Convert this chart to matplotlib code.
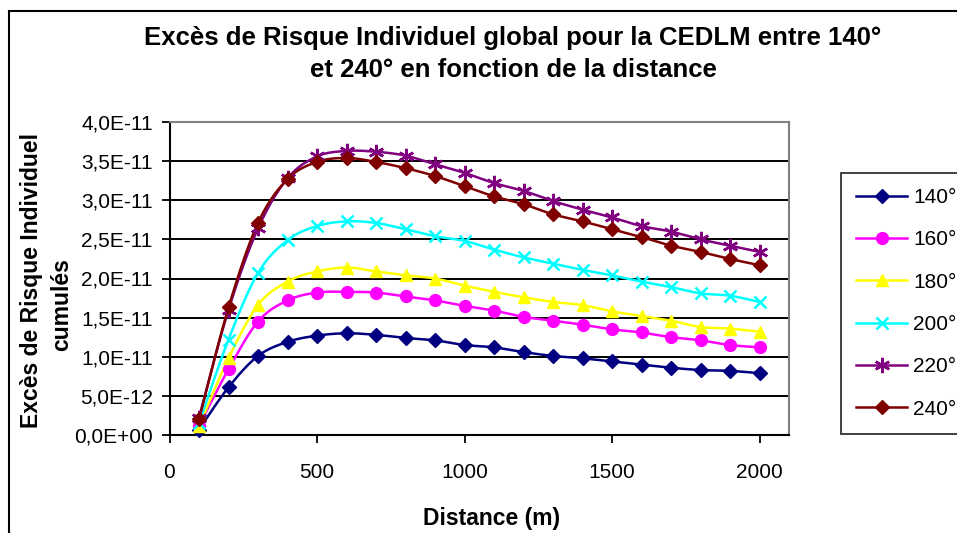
import numpy as np
import matplotlib
matplotlib.use("Agg")
import matplotlib.pyplot as plt
from matplotlib.lines import Line2D
from matplotlib.ticker import FuncFormatter, MultipleLocator

plt.rcParams['font.family'] = ['Liberation Sans', 'DejaVu Sans']

# Distances (m) and cumulated individual risk excess, in units of 1e-11
SCALE = 1e-11
distance = [100, 200, 300, 400, 500, 600, 700, 800, 900, 1000,
            1100, 1200, 1300, 1400, 1500, 1600, 1700, 1800, 1900, 2000]
risk_140 = [0.07, 0.61, 1.01, 1.19, 1.27, 1.30, 1.28, 1.24, 1.21, 1.15,
            1.12, 1.06, 1.01, 0.98, 0.94, 0.90, 0.86, 0.83, 0.82, 0.79]
risk_160 = [0.12, 0.84, 1.45, 1.72, 1.82, 1.83, 1.82, 1.77, 1.72, 1.65,
            1.59, 1.51, 1.46, 1.41, 1.35, 1.31, 1.25, 1.21, 1.15, 1.12]
risk_180 = [0.11, 0.98, 1.66, 1.96, 2.09, 2.14, 2.09, 2.04, 2.00, 1.91,
            1.83, 1.76, 1.70, 1.66, 1.58, 1.52, 1.46, 1.38, 1.36, 1.32]
risk_200 = [0.15, 1.22, 2.07, 2.49, 2.67, 2.73, 2.71, 2.63, 2.54, 2.48,
            2.37, 2.27, 2.19, 2.11, 2.04, 1.96, 1.89, 1.81, 1.78, 1.70]
risk_220 = [0.22, 1.60, 2.64, 3.28, 3.56, 3.63, 3.62, 3.57, 3.46, 3.35,
            3.22, 3.12, 2.99, 2.88, 2.78, 2.67, 2.60, 2.50, 2.42, 2.34]
risk_240 = [0.20, 1.63, 2.71, 3.27, 3.49, 3.54, 3.49, 3.41, 3.31, 3.18,
            3.05, 2.95, 2.82, 2.73, 2.63, 2.53, 2.42, 2.34, 2.25, 2.17]

labels = ["140°", "160°", "180°", "200°", "220°", "240°"]
series = [risk_140, risk_160, risk_180, risk_200, risk_220, risk_240]
colors = ["#000080", "#FF00FF", "#FFFF00", "#00FFFF", "#800080", "#800000"]
markers = ["D", "o", "^", "x", (6, 2, 0), "D"]
msizes = [7, 8.5, 9, 9, 11, 7.5]


def smooth_path(x, y, steps=12):
    """Catmull-Rom style smoothed path through the points (spreadsheet 'smoothed line')."""
    x = np.asarray(x, float)
    y = np.asarray(y, float)
    px = np.concatenate([[x[0]], x, [x[-1]]])
    py = np.concatenate([[y[0]], y, [y[-1]]])
    xs, ys = [], []
    t = np.linspace(0, 1, steps, endpoint=False)
    for i in range(1, len(px) - 2):
        p0, p1, p2, p3 = px[i - 1], px[i], px[i + 1], px[i + 2]
        q0, q1, q2, q3 = py[i - 1], py[i], py[i + 1], py[i + 2]
        c1x, c1y = p1 + (p2 - p0) / 6, q1 + (q2 - q0) / 6
        c2x, c2y = p2 - (p3 - p1) / 6, q2 - (q3 - q1) / 6
        bx = (1 - t) ** 3 * p1 + 3 * (1 - t) ** 2 * t * c1x + 3 * (1 - t) * t ** 2 * c2x + t ** 3 * p2
        by = (1 - t) ** 3 * q1 + 3 * (1 - t) ** 2 * t * c1y + 3 * (1 - t) * t ** 2 * c2y + t ** 3 * q2
        xs.extend(bx)
        ys.extend(by)
    xs.append(x[-1])
    ys.append(y[-1])
    return np.array(xs), np.array(ys)


W, H = 957, 533
fig = plt.figure(figsize=(W / 100, H / 100), dpi=100)
fig.patch.set_facecolor("white")


def fx(px):
    return px / W


def fy(py):
    return 1 - py / H


# Chart frame (left and top edges; the rest runs past the canvas)
fig.add_artist(Line2D([fx(9), fx(9)], [-0.05, fy(11)], transform=fig.transFigure,
                      color="black", lw=1.5))
fig.add_artist(Line2D([fx(9), 1.05], [fy(11), fy(11)], transform=fig.transFigure,
                      color="black", lw=1.5))

left, right, top, bottom = 169.5, 789, 122, 435
ax = fig.add_axes([fx(left), fy(bottom), (right - left) / W, (bottom - top) / H])

ax.set_xlim(0, 2100)
ax.set_ylim(0, 4.0e-11)
ax.xaxis.set_major_locator(MultipleLocator(500))
ax.yaxis.set_major_locator(MultipleLocator(0.5e-11))
ax.yaxis.set_major_formatter(FuncFormatter(lambda v, p: f"{v:.1E}".replace(".", ",")))

ax.grid(axis="y", color="black", lw=1.4)
ax.set_axisbelow(True)
for side in ("top", "right"):
    ax.spines[side].set_color("#808080")
    ax.spines[side].set_linewidth(1.5)
for side in ("left", "bottom"):
    ax.spines[side].set_color("black")
    ax.spines[side].set_linewidth(1.5)
ax.tick_params(axis="both", direction="out", length=6, width=1.3, labelsize=15)
ax.tick_params(axis="x", pad=14)
ax.tick_params(axis="y", pad=6)

handles = []
for vals, lab, col, mk, ms in zip(series, labels, colors, markers, msizes):
    yv = np.array(vals) * SCALE
    sx, sy = smooth_path(distance, yv)
    ax.plot(sx, sy, color=col, lw=1.8, zorder=3)
    ax.plot(distance, yv, linestyle="none", marker=mk, color=col, ms=ms,
            mew=1.8 if mk in ("x", (6, 2, 0)) else 1, zorder=4, clip_on=False)
    handles.append(Line2D([], [], color=col, lw=1.8, marker=mk, ms=ms,
                          mew=1.8 if mk in ("x", (6, 2, 0)) else 1, label=lab))

# Axis titles
fig.text(fx(491.5), fy(519), "Distance (m)", ha="center", va="center",
         fontsize=16.5, fontweight="bold")
fig.text(fx(32), fy(280), "Excès de Risque Individuel", rotation=90,
         ha="center", va="center", fontsize=16.5, fontweight="bold")
fig.text(fx(61.5), fy(305), "cumulés", rotation=90,
         ha="center", va="center", fontsize=16.5, fontweight="bold")

# Chart title
fig.text(fx(513), fy(38), "Excès de Risque Individuel global pour la CEDLM entre 140°",
         ha="center", va="center", fontsize=18.5, fontweight="bold")
fig.text(fx(513), fy(70), "et 240° en fonction de la distance",
         ha="center", va="center", fontsize=18.5, fontweight="bold")

leg = fig.legend(handles=handles, loc="upper left", bbox_to_anchor=(fx(841), fy(173)),
                 bbox_transform=fig.transFigure, fontsize=15, frameon=True, fancybox=False,
                 edgecolor="black", handlelength=2.45, handletextpad=0.3,
                 labelspacing=1.12, borderpad=0.72, borderaxespad=0)
leg.get_frame().set_linewidth(1.3)

fig.savefig("out.png", dpi=100)
